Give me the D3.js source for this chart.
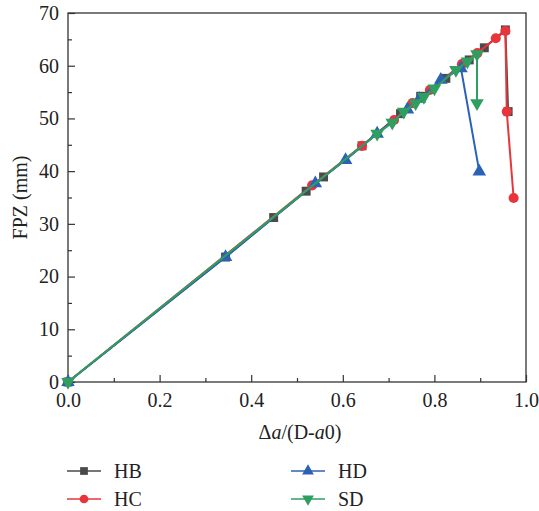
<!DOCTYPE html>
<html>
<head>
<meta charset="utf-8">
<script src="https://cdn.jsdelivr.net/npm/d3@7"></script>
<style>
  body { margin: 0; background: #fff; }
  text { font-family: "Liberation Serif", "DejaVu Serif", serif; fill: #222; }
</style>
</head>
<body>
<svg width="539" height="511"></svg>
<script>
// values
var hbX = [0, 0.344, 0.449, 0.520, 0.558, 0.642, 0.726, 0.770, 0.825, 0.876, 0.909, 0.955, 0.961];
var hbY = [0, 23.7, 31.2, 36.2, 38.9, 44.8, 50.9, 54.2, 57.6, 61.1, 63.4, 66.8, 51.3];
var hcX = [0, 0.533, 0.642, 0.712, 0.752, 0.790, 0.860, 0.894, 0.934, 0.955, 0.958, 0.973];
var hcY = [0, 37.3, 44.8, 49.7, 52.9, 55.4, 60.3, 62.4, 65.2, 66.6, 51.3, 34.9];
var hdX = [0, 0.344, 0.540, 0.606, 0.675, 0.741, 0.767, 0.814, 0.858, 0.898];
var hdY = [0, 23.7, 37.7, 42.1, 47.1, 51.7, 53.7, 57.3, 59.5, 39.9];
var sdX = [0, 0.675, 0.708, 0.733, 0.759, 0.777, 0.800, 0.847, 0.872, 0.893, 0.893];
var sdY = [0, 47.1, 49.2, 51.3, 52.9, 54.1, 55.7, 59.2, 60.8, 62.2, 52.9];

var xTicks = [0, 0.2, 0.4, 0.6, 0.8, 1.0];
var yTicks = [0, 10, 20, 30, 40, 50, 60, 70];

var series = [
  { name: "HB", xs: hbX, ys: hbY, color: "#4a4a4a", mark: d3.symbolSquare, size: 80, rot: 0 },
  { name: "HC", xs: hcX, ys: hcY, color: "#e8353b", mark: d3.symbolCircle, size: 80, rot: 0 },
  { name: "HD", xs: hdX, ys: hdY, color: "#2c62b6", mark: d3.symbolTriangle, size: 80, rot: 0 },
  { name: "SD", xs: sdX, ys: sdY, color: "#2f9f60", mark: d3.symbolTriangle, size: 80, rot: 180 }
];

var svg = d3.select("svg");
var pLeft = 68, pRight = 526, pTop = 13, pBottom = 382;
var fs = "20px";

var x = d3.scaleLinear().domain([0, 1]).range([pLeft, pRight]);
var y = d3.scaleLinear().domain([0, 70]).range([pBottom, pTop]);

// frame
svg.append("rect")
  .attr("x", pLeft).attr("y", pTop)
  .attr("width", pRight - pLeft).attr("height", pBottom - pTop)
  .attr("fill", "none").attr("stroke", "#333").attr("stroke-width", 1.3);

// axes, ticks inward
var xAxis = svg.append("g").attr("transform", "translate(0," + pBottom + ")")
  .call(d3.axisBottom(x).tickValues(d3.range(0, 1.01, 0.1)).tickSize(-4).tickFormat(""));
xAxis.selectAll("line").filter(function(d) { return xTicks.some(function(t) { return Math.abs(t - d) < 1e-6; }); })
  .attr("y2", -7);
var xLab = svg.append("g").attr("transform", "translate(0," + pBottom + ")")
  .call(d3.axisBottom(x).tickValues(xTicks).tickSize(0).tickPadding(11).tickFormat(d3.format(".1f")));

var yAxis = svg.append("g").attr("transform", "translate(" + pLeft + ",0)")
  .call(d3.axisLeft(y).tickValues(d3.range(0, 71, 5)).tickSize(-4).tickFormat(""));
yAxis.selectAll("line").filter(function(d) { return d % 10 === 0; }).attr("x2", 7);
var yLab = svg.append("g").attr("transform", "translate(" + pLeft + ",0)")
  .call(d3.axisLeft(y).tickValues(yTicks).tickSize(0).tickPadding(9));

[xAxis, xLab, yAxis, yLab].forEach(function(g) {
  g.select(".domain").remove();
  g.selectAll("line").attr("stroke", "#333").attr("stroke-width", 1.2);
  g.selectAll("text").style("font-size", fs).attr("fill", "#222");
});

// axis titles
var xt = svg.append("text").attr("x", (pLeft + pRight) / 2 + 3).attr("y", 439)
  .attr("text-anchor", "middle").style("font-size", fs);
xt.append("tspan").text("\u0394");
xt.append("tspan").attr("font-style", "italic").text("a");
xt.append("tspan").text("/(D-");
xt.append("tspan").attr("font-style", "italic").text("a");
xt.append("tspan").text("0)");

svg.append("text")
  .attr("transform", "translate(27," + ((pTop + pBottom) / 2) + ") rotate(-90)")
  .attr("text-anchor", "middle").style("font-size", fs)
  .text("FPZ (mm)");

// series
var line = d3.line().x(function(d) { return x(d[0]); }).y(function(d) { return y(d[1]); });

series.forEach(function(s) {
  var pts = s.xs.map(function(v, i) { return [v, s.ys[i]]; });
  var g = svg.append("g");
  g.append("path").datum(pts)
    .attr("d", line).attr("fill", "none")
    .attr("stroke", s.color).attr("stroke-width", 2);
  g.selectAll("path.m").data(pts).enter().append("path")
    .attr("class", "m")
    .attr("d", d3.symbol().type(s.mark).size(s.size))
    .attr("transform", function(d) { return "translate(" + x(d[0]) + "," + y(d[1]) + ") rotate(" + s.rot + ")"; })
    .attr("fill", s.color);
});

// legend
var legPos = [[67, 471], [67, 499], [291, 471], [291, 499]];
series.forEach(function(s, i) {
  var p = legPos[i];
  var g = svg.append("g").attr("transform", "translate(" + p[0] + "," + p[1] + ")");
  g.append("line").attr("x1", 0).attr("x2", 34).attr("stroke", s.color).attr("stroke-width", 1.5);
  g.append("path").attr("d", d3.symbol().type(s.mark).size(60))
    .attr("transform", "translate(17,0) rotate(" + s.rot + ")")
    .attr("fill", s.color);
  g.append("text").attr("x", 47).attr("y", 7).style("font-size", fs).text(s.name);
});
</script>
</body>
</html>
